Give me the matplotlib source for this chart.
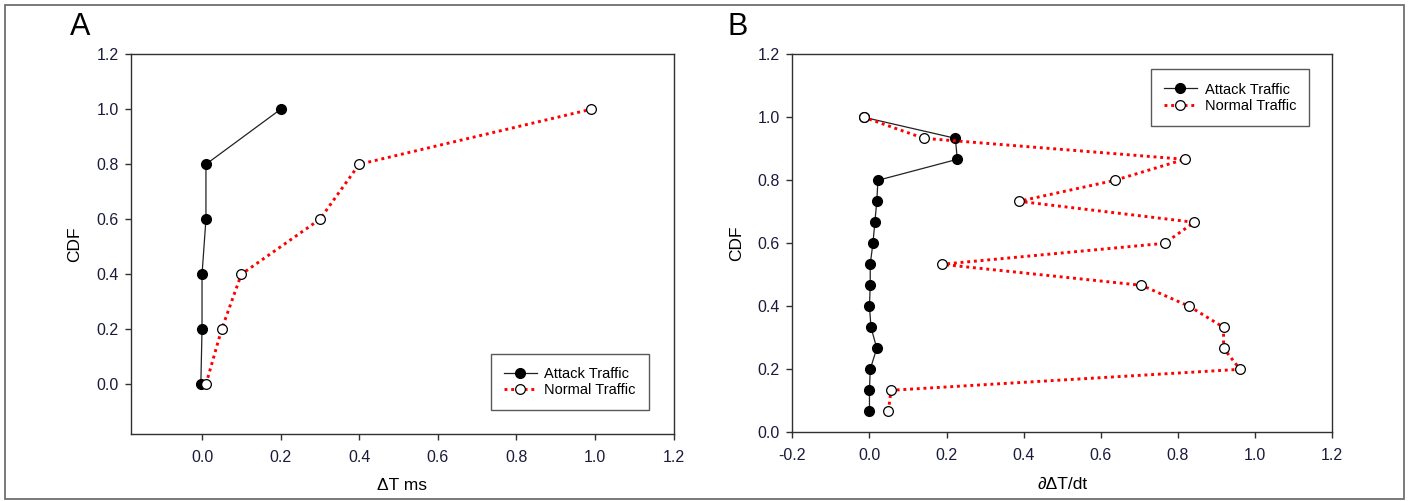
import matplotlib
matplotlib.use("Agg")
import matplotlib.pyplot as plt
from matplotlib.patches import Rectangle

plt.rcParams["font.family"] = ["Liberation Sans", "DejaVu Sans"]

# panel A data
a_cdf = [0.0, 0.2, 0.4, 0.6, 0.8, 1.0]
a_attack = [-0.003, 0.0, 0.0, 0.01, 0.01, 0.2]
a_normal = [0.01, 0.05, 0.1, 0.3, 0.4, 0.99]

# panel B data
b_cdf = [1/15, 2/15, 3/15, 4/15, 5/15, 6/15, 7/15, 8/15, 9/15, 10/15,
         11/15, 12/15, 13/15, 14/15, 1.0]
b_attack = [0.0, 0.0, 0.002, 0.019, 0.004, 0.0, 0.002, 0.002, 0.009, 0.014,
            0.019, 0.022, 0.228, 0.223, -0.014]
b_normal = [0.049, 0.056, 0.962, 0.919, 0.919, 0.830, 0.706, 0.187, 0.766, 0.843,
            0.388, 0.637, 0.818, 0.141, -0.014]

ticks = [0.0, 0.2, 0.4, 0.6, 0.8, 1.0, 1.2]
xticks_b = [-0.2] + ticks


def draw_panel(ax, x1, x2, y, xlim, ylim, xt, xlabel):
    ax.plot(x1, y, color="#222222", lw=0.9, marker="o", ms=7,
            mfc="black", mec="black", label="Attack Traffic")
    ax.plot(x2, y, color="red", lw=2.1, linestyle=(0, (1, 1.3)), marker="o", ms=7,
            mfc="white", mec="black", mew=0.9, label="Normal Traffic")
    ax.set_xlim(xlim)
    ax.set_ylim(ylim)
    ax.set_xticks(xt)
    ax.set_yticks(ticks)
    ax.set_xticklabels(["%.1f" % t for t in xt])
    ax.set_yticklabels(["%.1f" % t for t in ticks])
    ax.tick_params(direction="out", length=4, width=1.0, labelsize=11.5,
                   pad=5, colors="#303030", labelcolor="#1a1a3a")
    ax.tick_params(axis="x", pad=7)
    for s in ax.spines.values():
        s.set_linewidth(1.0)
        s.set_color("#303030")
    ax.set_xlabel(xlabel, fontsize=12.5, labelpad=10)
    ax.set_ylabel("CDF", fontsize=12.5, labelpad=10)


fig = plt.figure(figsize=(14.15, 5.01), dpi=100)

ax1 = fig.add_axes([131.3/1415, 1-434.3/501, 542.2/1415, 380/501])
draw_panel(ax1, a_attack, a_normal, a_cdf, (-0.18, 1.2), (-0.182, 1.2), ticks, "\u0394T ms")
leg1 = ax1.legend(loc="lower right", bbox_to_anchor=(0.955, 0.064), fontsize=10.5,
                  frameon=True, fancybox=False, edgecolor="#303030", handlelength=2.3,
                  labelspacing=0.15, borderpad=0.9, handletextpad=0.5, borderaxespad=0)
leg1.get_frame().set_linewidth(1.0)

ax2 = fig.add_axes([792.4/1415, 1-432.3/501, 539.4/1415, 378/501])
draw_panel(ax2, b_attack, b_normal, b_cdf, (-0.2, 1.2), (0.0, 1.2), xticks_b, "\u2202\u0394T/dt")
leg2 = ax2.legend(loc="upper right", bbox_to_anchor=(0.958, 0.960), fontsize=10.5,
                  frameon=True, fancybox=False, edgecolor="#303030", handlelength=2.3,
                  labelspacing=0.15, borderpad=0.9, handletextpad=0.5, borderaxespad=0)
leg2.get_frame().set_linewidth(1.0)

fig.text(80.6/1415, 1-27/501, "A", fontsize=22, ha="center", va="center")
fig.text(737.6/1415, 1-27/501, "B", fontsize=22, ha="center", va="center")

# outer frame
fig.patches.append(Rectangle((5/1415, 1-499/501), 1399/1415, 494.3/501,
                             transform=fig.transFigure, fill=False,
                             edgecolor="#707070", lw=1.3))

fig.savefig("out.png", dpi=100)
